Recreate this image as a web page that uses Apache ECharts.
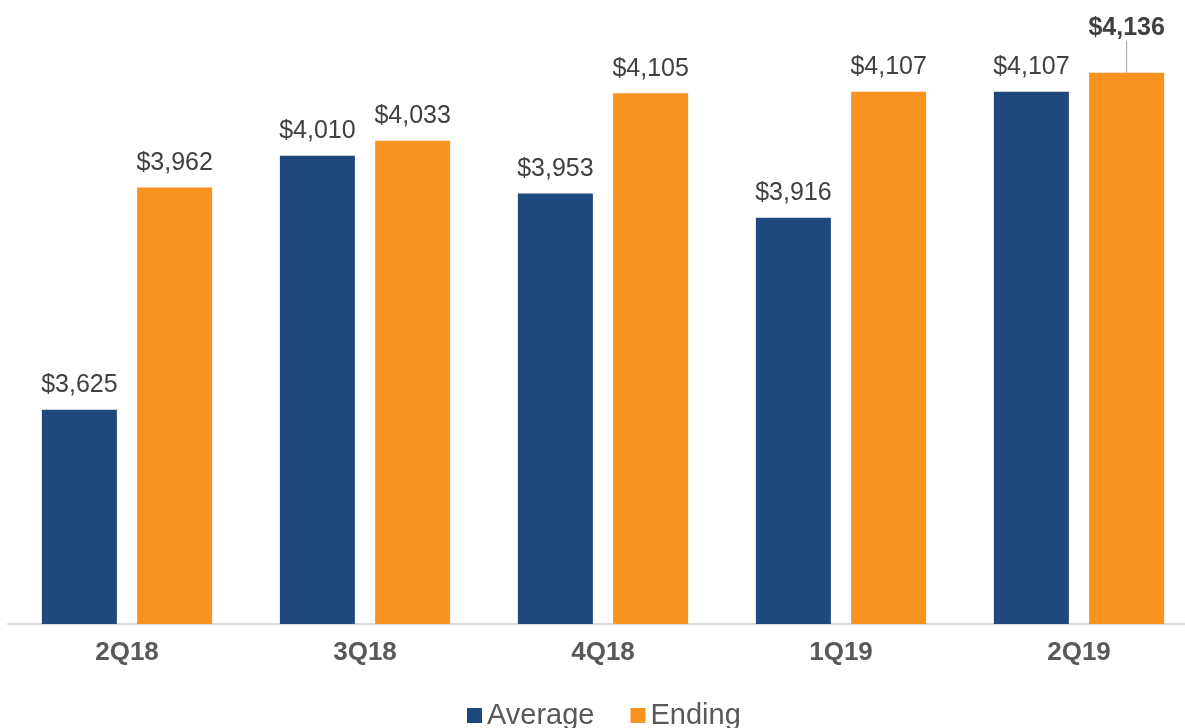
<!DOCTYPE html>
<html>
<head>
<meta charset="utf-8">
<script src="https://cdn.jsdelivr.net/npm/echarts@6/dist/echarts.min.js"></script>
<style>
  html, body { margin: 0; padding: 0; background: #fff; }
  #main { width: 1185px; height: 728px; }
</style>
</head>
<body>
<div id="main"></div>
<script>
// quarters and values
var categories = ['2Q18', '3Q18', '4Q18', '1Q19', '2Q19'];
var averageValues = [3625, 4010, 3953, 3916, 4107];
var endingValues = [3962, 4033, 4105, 4107, 4136];

function money(v) {
    return '$' + v.toLocaleString('en-US');
}

var chart = echarts.init(document.getElementById('main'));

var endingData = endingValues.map(function (v, i) {
    if (i === endingValues.length - 1) {
        return {
            value: v,
            label: { fontWeight: 'bold' },
            labelLine: { show: true, lineStyle: { color: '#a6a6a6', width: 1 } }
        };
    }
    return v;
});

var labelStyle = {
    show: true,
    position: 'top',
    distance: 12,
    fontFamily: 'Liberation Sans, Arial, sans-serif',
    fontSize: 25,
    color: '#404040',
    formatter: function (p) { return money(p.value); }
};

option = {
    animation: false,
    grid: {
        left: 8,
        top: 30.5,
        width: 1190,
        height: 593.5,
        outerBoundsMode: 'none'
    },
    legend: {
        left: 462,
        top: 696,
        icon: 'rect',
        itemWidth: 15,
        itemHeight: 15,
        itemGap: 36,
        textStyle: {
            fontFamily: 'Liberation Sans, Arial, sans-serif',
            fontSize: 29,
            color: '#595959'
        },
        data: ['Average', 'Ending']
    },
    xAxis: {
        type: 'category',
        data: categories,
        axisLine: { lineStyle: { color: '#d9d9d9', width: 2 } },
        axisTick: { show: false },
        axisLabel: {
            margin: 16,
            fontFamily: 'Liberation Sans, Arial, sans-serif',
            fontSize: 26,
            fontWeight: 'bold',
            color: '#595959'
        }
    },
    yAxis: {
        type: 'value',
        min: 3300,
        max: 4200,
        show: false,
        splitLine: { show: false }
    },
    series: [
        {
            name: 'Average',
            type: 'bar',
            data: averageValues,
            barWidth: 75,
            barGap: '27%',
            itemStyle: { color: '#1F497D' },
            label: labelStyle
        },
        {
            name: 'Ending',
            type: 'bar',
            data: endingData,
            barWidth: 75,
            barGap: '27%',
            itemStyle: { color: '#F7931E' },
            label: labelStyle,
            labelLayout: function (params) {
                if (params.dataIndex === endingValues.length - 1) {
                    return { dy: -20 };
                }
            }
        }
    ]
};
chart.setOption(option);
</script>
</body>
</html>
